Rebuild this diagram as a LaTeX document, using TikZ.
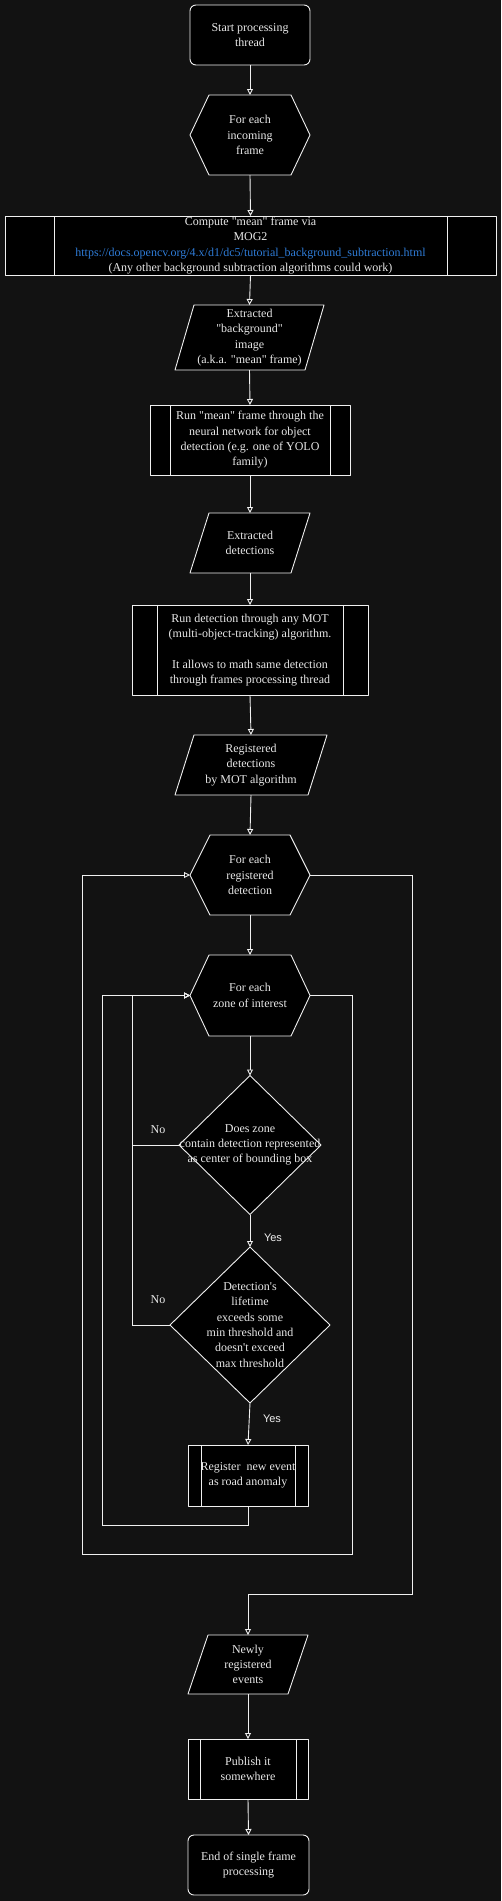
\documentclass[tikz,border=0pt]{standalone}
\usepackage{fontspec}
\setmainfont{Liberation Serif}[Ligatures=TeXOff]
\newfontfamily\yesfont{Liberation Sans}
\usetikzlibrary{arrows.meta,calc}
\definecolor{bgc}{HTML}{121212}
\definecolor{fg}{HTML}{F0F0F0}
\definecolor{txt}{HTML}{E8E8E8}
\definecolor{link}{HTML}{2E7BD6}
\pgfdeclarelayer{back}
\pgfdeclarelayer{background}
\pgfsetlayers{back,background,main}
\newcommand\hexshape[2]{\begin{pgfonlayer}{background}\draw[shp] (#1.west) -- ($(#1.north west)+(#2,0)$) -- ($(#1.north east)+(-#2,0)$) -- (#1.east) -- ($(#1.south east)+(-#2,0)$) -- ($(#1.south west)+(#2,0)$) -- cycle;\end{pgfonlayer}}
\newcommand\parashape[2]{\begin{pgfonlayer}{background}\draw[shp] (#1.south west) -- ($(#1.north west)+(#2,0)$) -- (#1.north east) -- ($(#1.south east)+(-#2,0)$) -- cycle;\end{pgfonlayer}}
\newcommand\diashape[1]{\begin{pgfonlayer}{background}\draw[shp] (#1.north) -- (#1.east) -- (#1.south) -- (#1.west) -- cycle;\end{pgfonlayer}}
\newcommand\procshape[2]{\begin{pgfonlayer}{background}\draw[shp] (#1.north west) rectangle (#1.south east);
\draw[shp] ($(#1.north west)+(#2,0)$) -- ($(#1.south west)+(#2,0)$);
\draw[shp] ($(#1.north east)+(-#2,0)$) -- ($(#1.south east)+(-#2,0)$);\end{pgfonlayer}}
\newcommand\roundshape[1]{\begin{pgfonlayer}{background}\draw[shp,rounded corners=6pt] (#1.north west) rectangle (#1.south east);\end{pgfonlayer}}
\begin{document}
\begin{tikzpicture}[x=1pt,y=-1pt,
  box/.style={rectangle, inner sep=0pt, outer sep=0pt},
  tx/.style={inner sep=0pt, align=center, text=txt, font=\fontsize{12}{15.3}\selectfont},
  shp/.style={draw=fg, fill=black, line width=0.9pt, line join=round},
  arr/.style={draw=fg, line width=0.9pt, -{Triangle[open,length=6pt,width=6pt]}},
  lbl/.style={text=fg, inner sep=0pt, font=\yesfont\fontsize{11}{13}\selectfont},
  nolbl/.style={text=txt, inner sep=0pt, font=\fontsize{12}{15}\selectfont}]
\begin{pgfonlayer}{back}
\fill[bgc] (0,0) rectangle (501,1901);
\end{pgfonlayer}
\useasboundingbox (0,0) rectangle (501,1901);

% shape nodes
\node[box, minimum width=120pt, minimum height=60pt] (start) at (250,35) {};
\node[box, minimum width=120pt, minimum height=80pt] (hex1) at (250,135) {};
\node[box, minimum width=491pt, minimum height=59pt] (mog) at (250.5,245.5) {};
\node[box, minimum width=149pt, minimum height=65pt] (bg) at (249.5,337.5) {};
\node[box, minimum width=200pt, minimum height=70pt] (nn) at (250,440) {};
\node[box, minimum width=120pt, minimum height=60pt] (det) at (250,543) {};
\node[box, minimum width=236pt, minimum height=90pt] (mot) at (250,650) {};
\node[box, minimum width=152pt, minimum height=60pt] (reg) at (251,765) {};
\node[box, minimum width=120pt, minimum height=80pt] (hex9) at (250,875) {};
\node[box, minimum width=120pt, minimum height=81pt] (hex10) at (250,995.5) {};
\node[box, minimum width=142pt, minimum height=139pt] (dia1) at (250,1145) {};
\node[box, minimum width=160pt, minimum height=156pt] (dia2) at (250,1325) {};
\node[box, minimum width=120pt, minimum height=61pt] (regev) at (248,1475.5) {};
\node[box, minimum width=120pt, minimum height=59pt] (newly) at (248,1664.5) {};
\node[box, minimum width=120pt, minimum height=60pt] (pub) at (248,1769) {};
\node[box, minimum width=121pt, minimum height=60pt] (end) at (248.5,1865) {};

\roundshape{start}
\hexshape{hex1}{19}
\procshape{mog}{49}
\parashape{bg}{19}
\procshape{nn}{20}
\parashape{det}{19}
\procshape{mot}{25}
\parashape{reg}{19}
\hexshape{hex9}{20}
\hexshape{hex10}{19}
\diashape{dia1}
\diashape{dia2}
\procshape{regev}{13}
\parashape{newly}{20}
\procshape{pub}{12}
\roundshape{end}

% texts
\node[tx] (start-t) at (start) {Start processing\\thread};
\node[tx] (hex1-t) at (hex1) {For each\\incoming\\frame};
\node[tx] (mog-t) at (mog) {Compute "mean" frame via\\MOG2\\{\color{link}https://docs.opencv.org/4.x/d1/dc5/tutorial\_background\_subtraction.html}\\(Any other background subtraction algorithms could work)};
\node[tx] (bg-t) at (bg) {Extracted\\"background"\\image\\(a.k.a. "mean" frame)};
\node[tx] (nn-t) at (nn) {Run "mean" frame through the\\neural network for object\\detection (e.g. one of YOLO\\family)};
\node[tx] (det-t) at (det) {Extracted\\detections};
\node[tx] (mot-t) at (mot) {Run detection through any MOT\\(multi-object-tracking) algorithm.\\\mbox{}\\It allows to math same detection\\through frames processing thread};
\node[tx] (reg-t) at (reg) {Registered\\detections\\by MOT algorithm};
\node[tx] (hex9-t) at (hex9) {For each\\registered\\detection};
\node[tx] (hex10-t) at (hex10) {For each\\zone of interest};
\node[tx] (dia1-t) at (dia1) {Does zone\\contain detection represented\\as center of bounding box};
\node[tx] (dia2-t) at (dia2) {Detection's\\lifetime\\exceeds some\\min threshold and\\doesn't exceed\\max threshold};
\node[tx] (regev-t) at (regev) {Register\ \ new event\\as road anomaly};
\node[tx] (newly-t) at (newly) {Newly\\registered\\events};
\node[tx] (pub-t) at (pub) {Publish it\\somewhere};
\node[tx] (end-t) at (end) {End of single frame\\processing};

% connectors
\draw[arr] (start.south) -- (hex1.north);
\draw[arr] (hex1.south) -- (mog.north);
\draw[arr] (mog.south) -- (bg.north);
\draw[arr] (bg.south) -- (nn.north);
\draw[arr] (nn.south) -- (det.north);
\draw[arr] (det.south) -- (mot.north);
\draw[arr] (mot.south) -- (reg.north);
\draw[arr] (reg.south) -- (hex9.north);
\draw[arr] (hex9.south) -- (hex10.north);
\draw[arr] (hex10.south) -- (dia1.north);
\draw[arr] (dia1.south) -- (dia2.north);
\draw[arr] (dia2.south) -- (regev.north);
\draw[arr] (dia1.west) -- ++(-47,0) |- (hex10.west);
\draw[arr] (dia2.west) -- ++(-38,0) |- (hex10.west);
\draw[arr] (regev.south) -- ++(0,19) -| ([xshift=-88pt]hex10.west) -- (hex10.west);
\draw[arr] (hex10.east) -- ++(42,0) -- ++(0,559) -| ([xshift=-108pt]hex9.west) -- (hex9.west);
\draw[arr] (hex9.east) -- ++(102,0) -- ++(0,719) -| (newly.north);
\draw[arr] (newly.south) -- (pub.north);
\draw[arr] (pub.south) -- (end.north);

% labels
\node[nolbl] (no1) at (158,1130) {No};
\node[nolbl] (no2) at (158,1300) {No};
\node[lbl] (yes1) at (273,1238) {Yes};
\node[lbl] (yes2) at (272,1419) {Yes};
\end{tikzpicture}
\end{document}
